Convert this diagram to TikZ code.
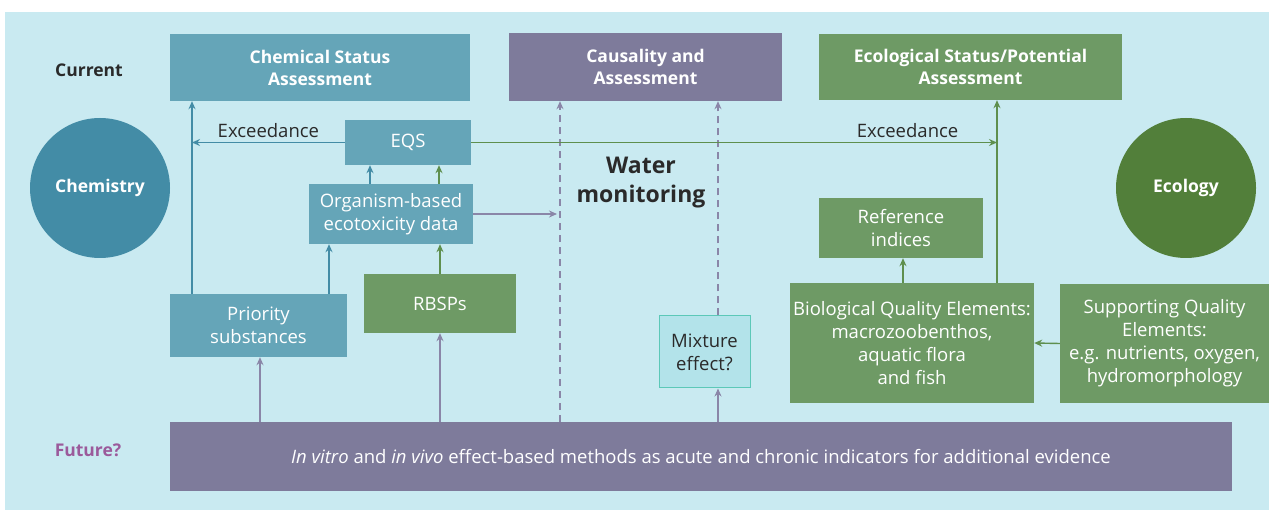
\documentclass[tikz,border=0pt]{standalone}
\usepackage{fontspec}
\setmainfont{Open Sans}
\usetikzlibrary{arrows.meta}
\definecolor{bgc}{HTML}{C9EAF1}
\definecolor{chemc}{HTML}{65A5B8}
\definecolor{chemdark}{HTML}{438CA6}
\definecolor{ecoc}{HTML}{6E9A65}
\definecolor{ecodark}{HTML}{527F3A}
\definecolor{ecoarrow}{HTML}{5E8F4E}
\definecolor{purc}{HTML}{7E7B9B}
\definecolor{purarrow}{HTML}{8A86A8}
\definecolor{mixfill}{HTML}{B3E3EA}
\definecolor{mixdraw}{HTML}{5CC8B8}
\definecolor{txtdark}{HTML}{2A2A2A}
\definecolor{futc}{HTML}{9B5A9B}
\tikzset{
  boxc/.style={inner sep=0pt, align=center, text=white, font=\fontsize{18.5}{23}\selectfont},
  hdr/.style={boxc, font=\fontsize{17.5}{22}\selectfont\bfseries},
  tipc/.style={-{Stealth[length=8pt,width=7pt]}, line width=1.4pt},
  barrow/.style={tipc, draw=chemdark, color=chemdark},
  garrow/.style={tipc, draw=ecoarrow, color=ecoarrow},
  parrow/.style={tipc, draw=purarrow, color=purarrow},
  dasharrow/.style={parrow, dash pattern=on 7pt off 5pt},
  lbl/.style={text=txtdark, font=\fontsize{18.5}{22}\selectfont},
}
\begin{document}
\begin{tikzpicture}[x=1pt,y=-1pt]
\useasboundingbox (0,0) rectangle (1269,510);
\fill[white] (0,0) rectangle (1269,510);
\fill[bgc] (5,12) rectangle (1269,510);

% header boxes
\node[hdr, fill=chemc, minimum width=300pt, minimum height=67pt] (chem) at (320,67.5) {Chemical Status\\Assessment};
\node[hdr, fill=purc, minimum width=273pt, minimum height=68pt] (caus) at (645.5,67) {Causality and\\Assessment};
\node[hdr, fill=ecoc, minimum width=303pt, minimum height=66pt] (ecob) at (970.5,67) {Ecological Status/Potential\\Assessment};

\node[text=txtdark, font=\fontsize{17.5}{21}\selectfont\bfseries] (cur) at (89,70) {Current};
\node[text=futc, font=\fontsize{17.5}{21}\selectfont\bfseries] (fut) at (88,450) {Future?};

% circles
\node[circle, fill=chemdark, minimum size=140pt, inner sep=0pt, text=white, font=\fontsize{17.5}{21}\selectfont\bfseries] (chemistry) at (100,188) {Chemistry};
\node[circle, fill=ecodark, minimum size=140pt, inner sep=0pt, text=white, font=\fontsize{17.5}{21}\selectfont\bfseries] (ecology) at (1186,188) {Ecology};

% chemistry side boxes
\node[boxc, fill=chemc, minimum width=126pt, minimum height=45pt] (eqs) at (408,142.5) {EQS};
\node[boxc, fill=chemc, minimum width=164pt, minimum height=60pt] (org) at (391,214) {Organism-based\\ecotoxicity data};
\node[boxc, fill=chemc, minimum width=177pt, minimum height=63pt] (prio) at (258.5,325.5) {Priority\\substances};
\node[boxc, fill=ecoc, minimum width=152pt, minimum height=59pt] (rbsp) at (440,303.5) {RBSPs};

% middle
\node[text=txtdark, align=center, font=\fontsize{23}{29}\selectfont\bfseries] (water) at (641,183) {Water\\monitoring};
\node[boxc, fill=mixfill, draw=mixdraw, line width=1pt, text=txtdark, minimum width=91pt, minimum height=72pt] (mix) at (704.5,352) {Mixture\\effect?};

% ecology side
\node[boxc, fill=ecoc, minimum width=164pt, minimum height=60pt] (ref) at (901,228) {Reference\\indices};
\node[boxc, fill=ecoc, minimum width=244pt, minimum height=120pt] (bqe) at (912,343) {Biological Quality Elements:\\macrozoobenthos,\\aquatic flora\\and fish};
\node[boxc, fill=ecoc, minimum width=209pt, minimum height=119pt] (sqe) at (1164.5,343.5) {Supporting Quality\\Elements:\\e.g. nutrients, oxygen,\\hydromorphology};

% bottom bar
\node[boxc, fill=purc, minimum width=1062pt, minimum height=69pt] (bottom) at (701,456.5) {\textit{In vitro} and \textit{in vivo} effect-based methods as acute and chronic indicators for additional evidence};

% helper coordinates
\coordinate (vx) at (192,0);
\coordinate (ox) at (370,0);
\coordinate (gx) at (439,0);
\coordinate (px) at (329,0);
\coordinate (bx1) at (260,0);
\coordinate (bx2) at (440,0);
\coordinate (mx) at (718,0);
\coordinate (dx) at (560,0);
\coordinate (ex) at (997,0);
\coordinate (rx) at (903,0);
\coordinate (dend) at (557,214);

% chemistry connectors
\draw[barrow] (prio.north -| vx) -- (chem.south -| vx);
\draw[barrow] (eqs.west) -- (vx |- eqs.west) node[pos=0.5, above=1pt, lbl] (exc1) {Exceedance};
\draw[barrow] (org.north -| ox) -- (eqs.south -| ox);
\draw[garrow] (org.north -| gx) -- (eqs.south -| gx);
\draw[barrow] (prio.north -| px) -- (org.south -| px);
\draw[garrow] (rbsp.north -| bx2) -- (org.south -| bx2);
\draw[parrow] (org.east) -- (dend);

% bottom connectors
\draw[parrow] (bottom.north -| bx1) -- (prio.south -| bx1);
\draw[parrow] (bottom.north -| bx2) -- (rbsp.south -| bx2);
\draw[parrow] (bottom.north -| mx) -- (mix.south -| mx);
\draw[dasharrow] (bottom.north -| dx) -- (caus.south -| dx);
\draw[dasharrow] (mix.north -| mx) -- (caus.south -| mx);

% ecology connectors
\draw[garrow] (eqs.east) -- (ex |- eqs.east) node[pos=0.83, above=1pt, lbl] (exc2) {Exceedance};
\draw[garrow] (bqe.north -| ex) -- (ecob.south -| ex);
\draw[garrow] (bqe.north -| rx) -- (ref.south -| rx);
\draw[garrow] (sqe.west) -- (bqe.east);
\end{tikzpicture}
\end{document}
